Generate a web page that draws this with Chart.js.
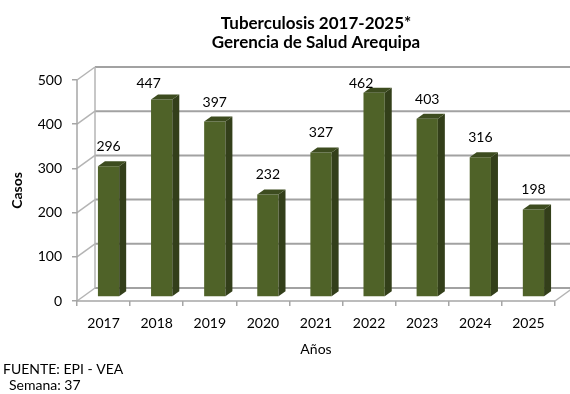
<!DOCTYPE html>
<html>
<head>
<meta charset="utf-8">
<script src="https://cdn.jsdelivr.net/npm/chart.js@4.4.1/dist/chart.umd.min.js"></script>
<style>
  html, body { margin: 0; padding: 0; background: #fff; }
  canvas { display: block; }
</style>
</head>
<body>
<canvas id="tb" width="570" height="394"></canvas>
<script>
// Casos de tuberculosis por año
const years = ['2017', '2018', '2019', '2020', '2021', '2022', '2023', '2024', '2025'];
const casos = [296, 447, 397, 232, 327, 462, 403, 316, 198];
const yMax = 500;
const yStep = 100;
const titleLines = ['Tuberculosis 2017-2025*', 'Gerencia de Salud Arequipa'];
const footLines = ['FUENTE: EPI - VEA', 'Semana: 37'];

const FONT = 'Lato, "Open Sans", sans-serif';
const wallDepth = { dx: 18, dy: -13 };   // offset from the front plane to the back wall
const barShift = { dx: 5, dy: -4 };      // bars stand a little behind the front plane
const barDepth = { dx: 7, dy: -5 };      // visible thickness of each bar

function line(ctx, x1, y1, x2, y2) {
  ctx.beginPath();
  ctx.moveTo(x1, y1);
  ctx.lineTo(x2, y2);
  ctx.stroke();
}

// Pseudo-3D frame (back wall, side wall, floor) and extruded bar faces
const frame3d = {
  id: 'frame3d',
  beforeDatasetsDraw(chart) {
    const { ctx, chartArea: a, scales: { y } } = chart;
    const { dx, dy } = wallDepth;
    ctx.save();
    ctx.lineCap = 'butt';

    // back wall gridlines
    ctx.strokeStyle = '#a2a2a2';
    ctx.lineWidth = 2;
    y.ticks.forEach(t => {
      const py = y.getPixelForValue(t.value);
      line(ctx, a.left + dx, py + dy, chart.width, py + dy);
    });

    // side wall: diagonals and vertical edges
    ctx.strokeStyle = '#b4b4b4';
    ctx.lineWidth = 1.5;
    y.ticks.forEach(t => {
      const py = y.getPixelForValue(t.value);
      line(ctx, a.left, py, a.left + dx, py + dy);
    });
    line(ctx, a.left + dx, a.top + dy, a.left + dx, a.bottom + dy);

    // floor front edge and right edge
    line(ctx, a.right, a.bottom, a.right + dx, a.bottom + dy);
    ctx.strokeStyle = '#a6a6a6';
    line(ctx, a.left, a.bottom, a.right, a.bottom);
    line(ctx, a.left, a.top, a.left, a.bottom);
    ctx.restore();

    ctx.save();
    ctx.translate(barShift.dx, barShift.dy);
  },
  afterDatasetsDraw(chart) {
    const { ctx, chartArea: a } = chart;
    ctx.restore();
    const meta = chart.getDatasetMeta(0);
    const ds = chart.data.datasets[0];
    ctx.save();
    meta.data.forEach((bar, i) => {
      const { x, y, base, width } = bar.getProps(['x', 'y', 'base', 'width'], true);
      const l = x - width / 2 + barShift.dx;
      const r = x + width / 2 + barShift.dx;
      const t = y + barShift.dy;
      const b = base + barShift.dy;
      const { dx, dy } = barDepth;

      // right side face
      ctx.fillStyle = '#333f1a';
      ctx.beginPath();
      ctx.moveTo(r, t);
      ctx.lineTo(r + dx, t + dy);
      ctx.lineTo(r + dx, b + dy);
      ctx.lineTo(r, b);
      ctx.closePath();
      ctx.fill();

      // top face
      ctx.fillStyle = '#3d4c1f';
      ctx.beginPath();
      ctx.moveTo(l, t);
      ctx.lineTo(l + dx, t + dy);
      ctx.lineTo(r + dx, t + dy);
      ctx.lineTo(r, t);
      ctx.closePath();
      ctx.fill();

      // value label above the bar, kept inside the plot area
      let lx = (l + r) / 2;
      let ly = t - 19.5;
      if (ly < a.top) {
        ly = a.top + 3;
        lx -= 13;
      }
      ctx.fillStyle = '#000';
      ctx.font = '14px ' + FONT;
      ctx.textAlign = 'center';
      ctx.textBaseline = 'middle';
      ctx.fillText(String(ds.data[i]), lx, ly);
    });
    ctx.restore();
  },
  afterDraw(chart) {
    const { ctx, chartArea: a } = chart;
    ctx.save();
    ctx.fillStyle = '#000';
    ctx.textBaseline = 'middle';
    ctx.textAlign = 'center';
    ctx.font = 'bold 17px ' + FONT;
    const cx = (a.left + a.right) / 2;
    titleLines.forEach((s, i) => ctx.fillText(s, cx, 24 + i * 19));
    ctx.textAlign = 'left';
    ctx.font = '14px ' + FONT;
    ctx.fillText(footLines[0], 3, 369);
    ctx.fillText(footLines[1], 9, 385);
    ctx.restore();
  }
};

new Chart(document.getElementById('tb'), {
  type: 'bar',
  data: {
    labels: years,
    datasets: [{
      label: 'Casos',
      data: casos,
      backgroundColor: '#4f6228',
      borderWidth: 0,
      categoryPercentage: 0.8,
      barPercentage: 0.5,
      clip: false
    }]
  },
  options: {
    responsive: false,
    animation: false,
    events: [],
    layout: { padding: { top: 80, right: 15, bottom: 23, left: 0 } },
    plugins: {
      legend: { display: false },
      title: { display: false },
      tooltip: { enabled: false }
    },
    scales: {
      x: {
        offset: true,
        grid: {
          display: true,
          offset: true,
          drawOnChartArea: false,
          drawTicks: true,
          tickLength: 5,
          color: '#a6a6a6',
          lineWidth: 1.5
        },
        border: { display: false },
        ticks: {
          color: '#000',
          padding: 9,
          font: { family: FONT, size: 14 },
          maxRotation: 0,
          autoSkip: false
        },
        title: {
          display: true,
          text: 'Años',
          color: '#000',
          font: { family: FONT, size: 14 },
          padding: { top: 0, bottom: 13 }
        },
        afterFit(scale) { scale.height = 70; }
      },
      y: {
        min: 0,
        max: yMax,
        grid: {
          display: true,
          drawOnChartArea: false,
          drawTicks: true,
          tickLength: 5,
          color: '#a6a6a6',
          lineWidth: 1.5
        },
        border: { display: false },
        ticks: {
          stepSize: yStep,
          color: '#000',
          padding: 10,
          font: { family: FONT, size: 14 }
        },
        title: {
          display: true,
          text: 'Casos',
          color: '#000',
          font: { family: FONT, size: 14, weight: 'bold' },
          padding: { top: 9, bottom: 0 }
        },
        afterFit(scale) { scale.width = 77; }
      }
    }
  },
  plugins: [frame3d]
});
</script>
</body>
</html>
